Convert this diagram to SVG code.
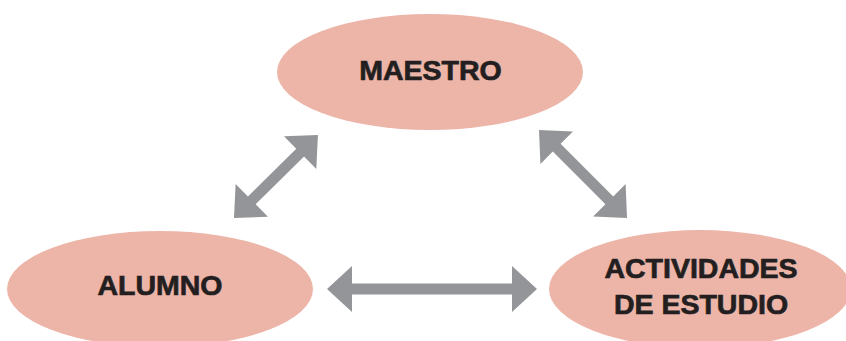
<svg xmlns="http://www.w3.org/2000/svg" width="846" height="341" viewBox="0 0 846 341">
<defs>
<style>
.node{fill:#EDB4A8;}
.lbl{font-family:"Liberation Sans",Arial,sans-serif;font-weight:bold;font-size:28.5px;fill:#231F20;stroke:#231F20;stroke-width:0.7;text-anchor:middle;}
.arr{fill:#939598;}
</style>
</defs>
<rect width="846" height="341" fill="#FFFFFF"/>
<g id="maestro">
<ellipse class="node" cx="430" cy="72" rx="153" ry="58"/>
<text class="lbl" x="430.5" y="80">MAESTRO</text>
</g>
<g id="alumno">
<ellipse class="node" cx="160" cy="289" rx="153" ry="58"/>
<text class="lbl" x="160" y="295">ALUMNO</text>
</g>
<g id="actividades">
<ellipse class="node" cx="700" cy="289" rx="151" ry="59"/>
<text class="lbl" x="701" y="278">ACTIVIDADES</text>
<text class="lbl" x="701" y="314">DE ESTUDIO</text>
</g>
<g id="connectors">
<polygon class="arr" transform="translate(234,218) rotate(-44.66)" points="0,0 25,-23 25,-5.5 93,-5.5 93,-23 118,0 93,23 93,5.5 25,5.5 25,23"/>
<polygon class="arr" transform="translate(539,130) rotate(45)" points="0,0 25,-23 25,-5.5 99.5,-5.5 99.5,-23 124.5,0 99.5,23 99.5,5.5 25,5.5 25,23"/>
<polygon class="arr" transform="translate(327,289)" points="0,0 25,-23 25,-5.5 185,-5.5 185,-23 210,0 185,23 185,5.5 25,5.5 25,23"/>
</g>
</svg>
